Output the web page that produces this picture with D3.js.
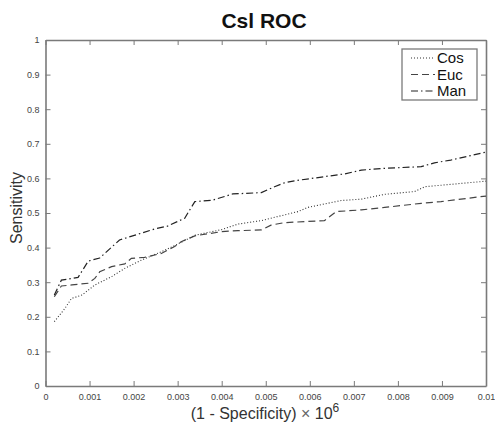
<!DOCTYPE html>
<html>
<head>
<meta charset="utf-8">
<script src="https://cdn.jsdelivr.net/npm/d3@7"></script>
<style>
  body { margin: 0; background: #fff; }
  svg text { font-family: "Liberation Sans", Arial, sans-serif; }
</style>
</head>
<body>
<svg id="chart" width="495" height="427"></svg>
<script>
// valeurs
var seriesNames = ["Cos", "Euc", "Man"];

var cosX = [0.0002, 0.00044, 0.00059, 0.00083, 0.00112, 0.0015, 0.0018, 0.00218, 0.00263, 0.0030, 0.0034, 0.0040, 0.00437, 0.0049, 0.00512, 0.00573, 0.00595, 0.00671, 0.00717, 0.0077, 0.00838, 0.00861, 0.0100];
var cosY = [0.186, 0.224, 0.253, 0.263, 0.292, 0.316, 0.34, 0.364, 0.388, 0.41, 0.436, 0.452, 0.468, 0.478, 0.485, 0.504, 0.516, 0.536, 0.54, 0.554, 0.562, 0.576, 0.592];

var eucX = [0.0002, 0.00036, 0.0006, 0.00097, 0.00112, 0.00123, 0.0015, 0.0018, 0.00195, 0.00225, 0.00263, 0.00293, 0.00308, 0.00339, 0.00399, 0.00437, 0.0049, 0.00512, 0.00542, 0.00633, 0.0066, 0.00717, 0.0077, 0.00853, 0.00898, 0.0100];
var eucY = [0.258, 0.289, 0.292, 0.297, 0.311, 0.33, 0.345, 0.353, 0.369, 0.372, 0.383, 0.403, 0.417, 0.434, 0.446, 0.449, 0.451, 0.465, 0.472, 0.478, 0.504, 0.509, 0.516, 0.528, 0.533, 0.549];

var manX = [0.0002, 0.00036, 0.00074, 0.00097, 0.00123, 0.00168, 0.00218, 0.00248, 0.00277, 0.00316, 0.00339, 0.00379, 0.00425, 0.0049, 0.0052, 0.00542, 0.00565, 0.00633, 0.00679, 0.00717, 0.0077, 0.00853, 0.00883, 0.0092, 0.0100];
var manY = [0.263, 0.306, 0.314, 0.361, 0.37, 0.422, 0.442, 0.454, 0.462, 0.485, 0.533, 0.537, 0.555, 0.559, 0.576, 0.587, 0.593, 0.605, 0.613, 0.624, 0.629, 0.634, 0.645, 0.653, 0.676];

var xTicks = [0, 0.001, 0.002, 0.003, 0.004, 0.005, 0.006, 0.007, 0.008, 0.009, 0.01];
var xTickLabels = ["0", "0.001", "0.002", "0.003", "0.004", "0.005", "0.006", "0.007", "0.008", "0.009", "0.01"];
var yTicks = [0, 0.1, 0.2, 0.3, 0.4, 0.5, 0.6, 0.7, 0.8, 0.9, 1];
var yTickLabels = ["0", "0.1", "0.2", "0.3", "0.4", "0.5", "0.6", "0.7", "0.8", "0.9", "1"];

var margin = {left: 45.5, right: 9, top: 40, bottom: 41};
var W = 495, H = 427;
var svg = d3.select("#chart");

var x = d3.scaleLinear().domain([0, 0.01]).range([margin.left, W - margin.right]);
var y = d3.scaleLinear().domain([0, 1]).range([H - margin.bottom, margin.top]);

var axisColor = "#7a7a7a";

//axes (ticks vers l'intérieur, sur les 4 côtés)
var gx = svg.append("g").attr("transform", "translate(0," + y(0) + ")")
  .call(d3.axisBottom(x).tickValues(xTicks).tickFormat(function(d, i){ return xTickLabels[i]; }).tickSize(-5).tickSizeOuter(0).tickPadding(6));
var gxt = svg.append("g").attr("transform", "translate(0," + y(1) + ")")
  .call(d3.axisTop(x).tickValues(xTicks).tickFormat("").tickSize(-5).tickSizeOuter(0));
var gy = svg.append("g").attr("transform", "translate(" + x(0) + ",0)")
  .call(d3.axisLeft(y).tickValues(yTicks).tickFormat(function(d, i){ return yTickLabels[i]; }).tickSize(-5).tickSizeOuter(0).tickPadding(6));
var gyr = svg.append("g").attr("transform", "translate(" + x(0.01) + ",0)")
  .call(d3.axisRight(y).tickValues(yTicks).tickFormat("").tickSize(-5).tickSizeOuter(0));

[gx, gxt, gy, gyr].forEach(function(g){
  g.select(".domain").attr("stroke", axisColor).attr("stroke-width", 1.6);
  g.selectAll(".tick line").attr("stroke", axisColor).attr("stroke-width", 1);
  g.selectAll(".tick text").attr("fill", "#444").style("font-size", "9px");
});
gx.selectAll(".tick text").attr("dy", "0.9em");

//courbes
var series = [
  {name: "Cos", xs: cosX, ys: cosY, dash: "1,2", color: "#333", width: 1.1},
  {name: "Euc", xs: eucX, ys: eucY, dash: "7,4", color: "#444", width: 1.2},
  {name: "Man", xs: manX, ys: manY, dash: "7,3,1.5,3", color: "#222", width: 1.2}
];

var line = d3.line().x(function(d){ return x(d[0]); }).y(function(d){ return y(d[1]); });

series.forEach(function(s){
  var pts = d3.zip(s.xs, s.ys);
  svg.append("path")
    .datum(pts)
    .attr("d", line)
    .attr("fill", "none")
    .attr("stroke", s.color)
    .attr("stroke-width", s.width)
    .attr("stroke-dasharray", s.dash);
});

//légende
var lg = svg.append("g").attr("transform", "translate(402,49)");
lg.append("rect").attr("width", 75).attr("height", 51)
  .attr("fill", "#fff").attr("stroke", axisColor).attr("stroke-width", 1.3);
series.forEach(function(s, i){
  var yy = 9 + i * 16.5;
  lg.append("line").attr("x1", 9).attr("x2", 33).attr("y1", yy).attr("y2", yy)
    .attr("stroke", s.color).attr("stroke-width", s.width).attr("stroke-dasharray", s.dash);
  lg.append("text").attr("x", 35).attr("y", yy).attr("dy", "0.36em")
    .style("font-size", "15px").attr("fill", "#111").text(s.name);
});

//titre et libellés
svg.append("text").attr("x", 264).attr("y", 28).attr("text-anchor", "middle")
  .style("font-size", "21px").style("font-weight", "bold").attr("fill", "#111").text("Csl ROC");

svg.append("text").attr("transform", "translate(22,208) rotate(-90)")
  .attr("text-anchor", "middle").style("font-size", "16px").attr("fill", "#333").text("Sensitivity");

var xl = svg.append("text").attr("x", 265).attr("y", 419).attr("text-anchor", "middle")
  .style("font-size", "16px").attr("fill", "#333");
xl.append("tspan").text("(1 - Specificity) ");
xl.append("tspan").attr("fill", "#666").text("\u00d7");
xl.append("tspan").text(" 10");
xl.append("tspan").attr("dy", "-7").style("font-size", "12px").text("6");
</script>
</body>
</html>
